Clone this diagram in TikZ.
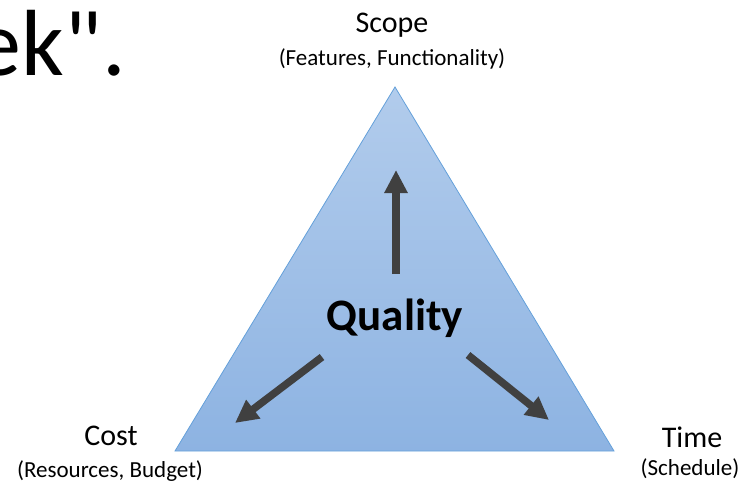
\documentclass[tikz,border=0pt]{standalone}
\usepackage{fontspec}
\setmainfont{Carlito}
\newfontfamily\plainfont{Carlito}
\usetikzlibrary{arrows.meta}

\definecolor{triTop}{RGB}{178,204,236}
\definecolor{triBot}{RGB}{141,179,226}
\definecolor{triEdge}{RGB}{100,160,218}
\definecolor{arrGray}{RGB}{64,64,64}

\tikzset{
  corner/.style={font=\fontsize{30}{32}\selectfont, anchor=base, inner sep=0pt},
  sub/.style={font=\fontsize{23}{25}\selectfont, anchor=base, inner sep=0pt},
  push/.style={line width=7.5pt, draw=arrGray, -{Triangle[width=22pt,length=23pt]}}
}

\begin{document}
\begin{tikzpicture}[x=1pt,y=1pt]
  \useasboundingbox (0,0) rectangle (744,483);

  % Leftover slide text, cut at the left edge
  \node[anchor=base east, inner sep=0pt, font=\plainfont\fontsize{94}{98}\selectfont] (slide) at (126,407) {ek".};

  % The triangle, lighter at the top
  \coordinate (apex) at (395,396);
  \coordinate (left) at (175,32);
  \coordinate (right) at (614,32);
  \shadedraw[top color=triTop, bottom color=triBot, draw=triEdge, line width=0.8pt]
    (apex) -- (right) -- (left) -- cycle;

  % Corner labels
  \node[corner] (scope) at (392,450) {Scope};
  \node[sub] (scopesub) at (392,417) {(Features, Functionality)};
  \node[corner] (cost) at (111,38) {Cost};
  \node[sub] (costsub) at (110,6) {(Resources, Budget)};
  \node[corner] (time) at (692,36) {Time};
  \node[sub] (timesub) at (690,8) {(Schedule)};

  % Centre label
  \node[anchor=base, inner sep=0pt, font=\bfseries\fontsize{45}{48}\selectfont] (quality) at (395,153) {Quality};

  % Arrows pushing out to the corners
  \coordinate (upfrom) at (396,209);
  \coordinate (upto) at (396,313);
  \coordinate (lfrom) at (322,126);
  \coordinate (lto) at (235,60);
  \coordinate (rfrom) at (468,128);
  \coordinate (rto) at (549,63);
  \draw[push] (upfrom) -- (upto);
  \draw[push] (lfrom) -- (lto);
  \draw[push] (rfrom) -- (rto);

\end{tikzpicture}
\end{document}
